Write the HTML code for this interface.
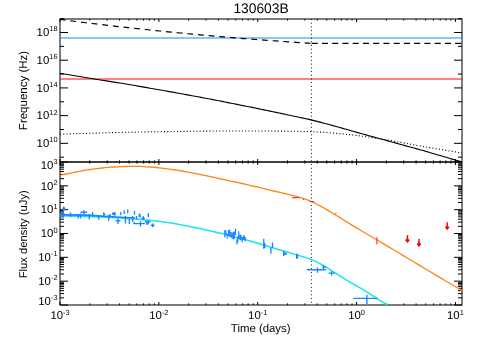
<!DOCTYPE html><html><head><meta charset="utf-8"><style>html,body{margin:0;padding:0;background:#fff}svg{display:block}text{font-family:"Liberation Sans",sans-serif;fill:#000;text-rendering:geometricPrecision}</style></head><body>
<svg width="480" height="343" viewBox="0 0 480 343">
<rect width="480" height="343" fill="#fff"/>
<g stroke="#000" stroke-width="1.02" fill="none">
<rect x="60.0" y="19.0" width="402.0" height="286.0"/>
<line x1="60.0" x2="462.0" y1="162.0" y2="162.0" stroke-width="1.55"/>
</g>
<path d="M60.00,19.0v3.0M60.00,159.0v6.0M60.00,305.0v-3.0M89.76,19.0v1.6M89.76,160.4v3.2M89.76,305.0v-1.6M107.17,19.0v1.6M107.17,160.4v3.2M107.17,305.0v-1.6M119.52,19.0v1.6M119.52,160.4v3.2M119.52,305.0v-1.6M129.10,19.0v1.6M129.10,160.4v3.2M129.10,305.0v-1.6M136.93,19.0v1.6M136.93,160.4v3.2M136.93,305.0v-1.6M143.55,19.0v1.6M143.55,160.4v3.2M143.55,305.0v-1.6M149.28,19.0v1.6M149.28,160.4v3.2M149.28,305.0v-1.6M154.34,19.0v1.6M154.34,160.4v3.2M154.34,305.0v-1.6M158.86,19.0v3.0M158.86,159.0v6.0M158.86,305.0v-3.0M188.62,19.0v1.6M188.62,160.4v3.2M188.62,305.0v-1.6M206.03,19.0v1.6M206.03,160.4v3.2M206.03,305.0v-1.6M218.38,19.0v1.6M218.38,160.4v3.2M218.38,305.0v-1.6M227.96,19.0v1.6M227.96,160.4v3.2M227.96,305.0v-1.6M235.79,19.0v1.6M235.79,160.4v3.2M235.79,305.0v-1.6M242.41,19.0v1.6M242.41,160.4v3.2M242.41,305.0v-1.6M248.14,19.0v1.6M248.14,160.4v3.2M248.14,305.0v-1.6M253.20,19.0v1.6M253.20,160.4v3.2M253.20,305.0v-1.6M257.72,19.0v3.0M257.72,159.0v6.0M257.72,305.0v-3.0M287.48,19.0v1.6M287.48,160.4v3.2M287.48,305.0v-1.6M304.89,19.0v1.6M304.89,160.4v3.2M304.89,305.0v-1.6M317.24,19.0v1.6M317.24,160.4v3.2M317.24,305.0v-1.6M326.82,19.0v1.6M326.82,160.4v3.2M326.82,305.0v-1.6M334.65,19.0v1.6M334.65,160.4v3.2M334.65,305.0v-1.6M341.27,19.0v1.6M341.27,160.4v3.2M341.27,305.0v-1.6M347.00,19.0v1.6M347.00,160.4v3.2M347.00,305.0v-1.6M352.06,19.0v1.6M352.06,160.4v3.2M352.06,305.0v-1.6M356.58,19.0v3.0M356.58,159.0v6.0M356.58,305.0v-3.0M386.34,19.0v1.6M386.34,160.4v3.2M386.34,305.0v-1.6M403.75,19.0v1.6M403.75,160.4v3.2M403.75,305.0v-1.6M416.10,19.0v1.6M416.10,160.4v3.2M416.10,305.0v-1.6M425.68,19.0v1.6M425.68,160.4v3.2M425.68,305.0v-1.6M433.51,19.0v1.6M433.51,160.4v3.2M433.51,305.0v-1.6M440.13,19.0v1.6M440.13,160.4v3.2M440.13,305.0v-1.6M445.86,19.0v1.6M445.86,160.4v3.2M445.86,305.0v-1.6M450.92,19.0v1.6M450.92,160.4v3.2M450.92,305.0v-1.6M455.44,19.0v3.0M455.44,159.0v6.0M455.44,305.0v-3.0M60.0,157.20h4M462.0,157.20h-4M60.0,143.35h8M462.0,143.35h-8M60.0,129.49h4M462.0,129.49h-4M60.0,115.64h8M462.0,115.64h-8M60.0,101.78h4M462.0,101.78h-4M60.0,87.92h8M462.0,87.92h-8M60.0,74.07h4M462.0,74.07h-4M60.0,60.21h8M462.0,60.21h-8M60.0,46.36h4M462.0,46.36h-4M60.0,32.50h8M462.0,32.50h-8M60.0,18.64h4M462.0,18.64h-4M60.0,305.00h8M462.0,305.00h-8M60.0,297.83h4M462.0,297.83h-4M60.0,293.63h4M462.0,293.63h-4M60.0,290.65h4M462.0,290.65h-4M60.0,288.34h4M462.0,288.34h-4M60.0,286.45h4M462.0,286.45h-4M60.0,284.86h4M462.0,284.86h-4M60.0,283.48h4M462.0,283.48h-4M60.0,282.26h4M462.0,282.26h-4M60.0,281.17h8M462.0,281.17h-8M60.0,273.99h4M462.0,273.99h-4M60.0,269.80h4M462.0,269.80h-4M60.0,266.82h4M462.0,266.82h-4M60.0,264.51h4M462.0,264.51h-4M60.0,262.62h4M462.0,262.62h-4M60.0,261.03h4M462.0,261.03h-4M60.0,259.64h4M462.0,259.64h-4M60.0,258.42h4M462.0,258.42h-4M60.0,257.33h8M462.0,257.33h-8M60.0,250.16h4M462.0,250.16h-4M60.0,245.96h4M462.0,245.96h-4M60.0,242.98h4M462.0,242.98h-4M60.0,240.67h4M462.0,240.67h-4M60.0,238.79h4M462.0,238.79h-4M60.0,237.19h4M462.0,237.19h-4M60.0,235.81h4M462.0,235.81h-4M60.0,234.59h4M462.0,234.59h-4M60.0,233.50h8M462.0,233.50h-8M60.0,226.33h4M462.0,226.33h-4M60.0,222.13h4M462.0,222.13h-4M60.0,219.15h4M462.0,219.15h-4M60.0,216.84h4M462.0,216.84h-4M60.0,214.95h4M462.0,214.95h-4M60.0,213.36h4M462.0,213.36h-4M60.0,211.98h4M462.0,211.98h-4M60.0,210.76h4M462.0,210.76h-4M60.0,209.67h8M462.0,209.67h-8M60.0,202.49h4M462.0,202.49h-4M60.0,198.30h4M462.0,198.30h-4M60.0,195.32h4M462.0,195.32h-4M60.0,193.01h4M462.0,193.01h-4M60.0,191.12h4M462.0,191.12h-4M60.0,189.53h4M462.0,189.53h-4M60.0,188.14h4M462.0,188.14h-4M60.0,186.92h4M462.0,186.92h-4M60.0,185.83h8M462.0,185.83h-8M60.0,178.66h4M462.0,178.66h-4M60.0,174.46h4M462.0,174.46h-4M60.0,171.48h4M462.0,171.48h-4M60.0,169.17h4M462.0,169.17h-4M60.0,167.29h4M462.0,167.29h-4M60.0,165.69h4M462.0,165.69h-4M60.0,164.31h4M462.0,164.31h-4M60.0,163.09h4M462.0,163.09h-4M60.0,162.00h8M462.0,162.00h-8" stroke="#000" stroke-width="1.0" fill="none"/>
<line x1="60.0" x2="462.0" y1="38.05" y2="38.05" stroke="#1c84ff" stroke-width="1.1"/>
<line x1="60.0" x2="462.0" y1="78.95" y2="78.95" stroke="#ff0505" stroke-width="1.1"/>
<path d="M59.75,19.47 L64.00,20.01 L68.00,20.52 L72.00,21.02 L76.00,21.52 L80.00,22.02 L84.00,22.51 L88.00,22.99 L92.00,23.48 L96.00,23.95 L100.00,24.43 L104.00,24.89 L108.00,25.36 L112.00,25.82 L116.00,26.28 L120.00,26.73 L124.00,27.17 L128.00,27.62 L132.00,28.06 L136.00,28.49 L140.00,28.92 L144.00,29.35 L148.00,29.77 L152.00,30.18 L156.00,30.60 L160.00,31.01 L164.00,31.41 L168.00,31.81 L172.00,32.20 L176.00,32.60 L180.00,32.98 L184.00,33.36 L188.00,33.74 L192.00,34.12 L196.00,34.49 L200.00,34.85 L204.00,35.21 L208.00,35.57 L212.00,35.92 L216.00,36.27 L220.00,36.61 L224.00,36.95 L228.00,37.29 L232.00,37.62 L236.00,37.94 L240.00,38.26 L244.00,38.58 L248.00,38.90 L252.00,39.20 L256.00,39.51 L260.00,39.81 L264.00,40.11 L268.00,40.40 L272.00,40.69 L276.00,40.97 L280.00,41.25 L284.00,41.52 L288.00,41.79 L292.00,42.06 L296.00,42.32 L300.00,42.58 L304.00,42.83 L308.00,43.08 L311.50,43.29" fill="none" stroke="#000" stroke-width="1.2" stroke-dasharray="5.8 4.9"/>
<path d="M311.70,43.30 L462.00,43.30" fill="none" stroke="#000" stroke-width="1.2" stroke-dasharray="6 4.25"/>
<path d="M60.00,73.30 L63.00,73.80 L66.00,74.30 L69.00,74.80 L72.00,75.30 L75.00,75.80 L78.00,76.29 L81.00,76.79 L84.00,77.28 L87.00,77.77 L90.00,78.26 L93.00,78.75 L96.00,79.24 L99.00,79.72 L102.00,80.20 L105.00,80.67 L108.00,81.15 L111.00,81.62 L114.00,82.10 L117.00,82.58 L120.00,83.06 L123.00,83.54 L126.00,84.03 L129.00,84.53 L132.00,85.04 L135.00,85.56 L138.00,86.08 L141.00,86.61 L144.00,87.14 L147.00,87.67 L150.00,88.20 L153.00,88.72 L156.00,89.25 L159.00,89.77 L162.00,90.29 L165.00,90.81 L168.00,91.34 L171.00,91.88 L174.00,92.42 L177.00,92.96 L180.00,93.50 L183.00,94.04 L186.00,94.59 L189.00,95.14 L192.00,95.69 L195.00,96.25 L198.00,96.80 L201.00,97.37 L204.00,97.93 L207.00,98.50 L210.00,99.07 L213.00,99.65 L216.00,100.23 L219.00,100.82 L222.00,101.40 L225.00,102.00 L228.00,102.59 L231.00,103.19 L234.00,103.79 L237.00,104.39 L240.00,104.99 L243.00,105.60 L246.00,106.20 L249.00,106.81 L252.00,107.42 L255.00,108.04 L258.00,108.66 L261.00,109.27 L264.00,109.90 L267.00,110.52 L270.00,111.15 L273.00,111.77 L276.00,112.40 L279.00,113.03 L282.00,113.67 L285.00,114.30 L288.00,114.93 L291.00,115.55 L294.00,116.18 L297.00,116.80 L300.00,117.43 L303.00,118.08 L306.00,118.74 L309.00,119.42 L312.00,120.12 L315.00,120.85 L318.00,121.62 L321.00,122.40 L324.00,123.20 L327.00,124.01 L330.00,124.83 L333.00,125.66 L336.00,126.47 L339.00,127.30 L342.00,128.13 L345.00,128.97 L348.00,129.82 L351.00,130.67 L354.00,131.52 L357.00,132.36 L360.00,133.20 L363.00,134.03 L366.00,134.87 L369.00,135.70 L372.00,136.53 L375.00,137.35 L378.00,138.18 L381.00,139.01 L384.00,139.83 L387.00,140.66 L390.00,141.48 L393.00,142.31 L396.00,143.13 L399.00,143.95 L402.00,144.78 L405.00,145.60 L408.00,146.42 L411.00,147.23 L414.00,148.04 L417.00,148.86 L420.00,149.70 L423.00,150.55 L426.00,151.41 L429.00,152.29 L432.00,153.17 L435.00,154.05 L438.00,154.93 L441.00,155.82 L444.00,156.70 L447.00,157.58 L450.00,158.46 L453.00,159.34 L456.00,160.23 L459.00,161.11 L462.00,162.00" fill="none" stroke="#000" stroke-width="1.12"/>
<path d="M60.00,134.20 L63.00,134.10 L66.00,134.01 L69.00,133.91 L72.00,133.82 L75.00,133.73 L78.00,133.64 L81.00,133.55 L84.00,133.46 L87.00,133.37 L90.00,133.28 L93.00,133.20 L96.00,133.11 L99.00,133.03 L102.00,132.94 L105.00,132.86 L108.00,132.78 L111.00,132.69 L114.00,132.61 L117.00,132.53 L120.00,132.45 L123.00,132.37 L126.00,132.30 L129.00,132.23 L132.00,132.16 L135.00,132.10 L138.00,132.04 L141.00,131.99 L144.00,131.94 L147.00,131.89 L150.00,131.84 L153.00,131.79 L156.00,131.75 L159.00,131.70 L162.00,131.66 L165.00,131.62 L168.00,131.58 L171.00,131.55 L174.00,131.51 L177.00,131.48 L180.00,131.44 L183.00,131.40 L186.00,131.37 L189.00,131.33 L192.00,131.29 L195.00,131.26 L198.00,131.22 L201.00,131.19 L204.00,131.16 L207.00,131.13 L210.00,131.10 L213.00,131.07 L216.00,131.05 L219.00,131.03 L222.00,131.02 L225.00,131.01 L228.00,131.00 L231.00,131.00 L234.00,131.00 L237.00,131.00 L240.00,131.00 L243.00,131.01 L246.00,131.01 L249.00,131.02 L252.00,131.02 L255.00,131.03 L258.00,131.03 L261.00,131.04 L264.00,131.05 L267.00,131.06 L270.00,131.06 L273.00,131.07 L276.00,131.09 L279.00,131.10 L282.00,131.11 L285.00,131.13 L288.00,131.17 L291.00,131.21 L294.00,131.26 L297.00,131.32 L300.00,131.39 L303.00,131.46 L306.00,131.54 L309.00,131.63 L312.00,131.72 L315.00,131.83 L318.00,131.98 L321.00,132.16 L324.00,132.36 L327.00,132.57 L330.00,132.80 L333.00,133.04 L336.00,133.28 L339.00,133.55 L342.00,133.84 L345.00,134.15 L348.00,134.48 L351.00,134.83 L354.00,135.18 L357.00,135.54 L360.00,135.92 L363.00,136.32 L366.00,136.73 L369.00,137.15 L372.00,137.59 L375.00,138.04 L378.00,138.50 L381.00,138.98 L384.00,139.47 L387.00,139.98 L390.00,140.50 L393.00,141.03 L396.00,141.57 L399.00,142.11 L402.00,142.66 L405.00,143.20 L408.00,143.75 L411.00,144.32 L414.00,144.89 L417.00,145.46 L420.00,146.00 L423.00,146.52 L426.00,147.03 L429.00,147.54 L432.00,148.03 L435.00,148.52 L438.00,149.01 L441.00,149.50 L444.00,150.00 L447.00,150.50 L450.00,151.00 L453.00,151.50 L456.00,152.00 L459.00,152.50 L462.00,153.00" fill="none" stroke="#000" stroke-width="1.1" stroke-dasharray="1.05 2.2"/>
<line x1="311.4" x2="311.4" y1="19.0" y2="305.0" stroke="#000" stroke-width="1.0" stroke-dasharray="0.95 2.77"/>
<path d="M60.00,215.80 L63.00,215.86 L66.00,215.93 L69.00,216.00 L72.00,216.08 L75.00,216.16 L78.00,216.24 L81.00,216.33 L84.00,216.42 L87.00,216.51 L90.00,216.61 L93.00,216.72 L96.00,216.82 L99.00,216.94 L102.00,217.07 L105.00,217.20 L108.00,217.35 L111.00,217.52 L114.00,217.70 L117.00,217.89 L120.00,218.10 L123.00,218.31 L126.00,218.52 L129.00,218.73 L132.00,218.94 L135.00,219.14 L138.00,219.34 L141.00,219.56 L144.00,219.78 L147.00,220.03 L150.00,220.30 L153.00,220.61 L156.00,220.95 L159.00,221.33 L162.00,221.74 L165.00,222.16 L168.00,222.60 L171.00,223.05 L174.00,223.54 L177.00,224.06 L180.00,224.60 L183.00,225.18 L186.00,225.78 L189.00,226.40 L192.00,227.00 L195.00,227.58 L198.00,228.18 L201.00,228.82 L204.00,229.50 L207.00,230.20 L210.00,230.90 L213.00,231.58 L216.00,232.25 L219.00,232.93 L222.00,233.62 L225.00,234.34 L228.00,235.09 L231.00,235.85 L234.00,236.63 L237.00,237.43 L240.00,238.23 L243.00,239.05 L246.00,239.88 L249.00,240.72 L252.00,241.57 L255.00,242.44 L258.00,243.31 L261.00,244.20 L264.00,245.10 L267.00,246.01 L270.00,246.95 L273.00,247.89 L276.00,248.80 L279.00,249.69 L282.00,250.57 L285.00,251.45 L288.00,252.32 L291.00,253.20 L294.00,254.10 L297.00,255.00 L300.00,255.87 L303.00,256.75 L306.00,257.67 L309.00,258.68 L312.00,259.80 L315.00,261.11 L318.00,262.59 L321.00,264.18 L324.00,265.86 L327.00,267.71 L330.00,269.66 L333.00,271.56 L336.00,273.43 L339.00,275.31 L342.00,277.16 L345.00,279.00 L348.00,280.80 L351.00,282.57 L354.00,284.32 L357.00,286.09 L360.00,287.90 L363.00,289.74 L366.00,291.58 L369.00,293.45 L372.00,295.32 L375.00,297.21 L378.00,299.12 L381.00,301.04 L384.00,302.98 L387.00,304.93 L387.10,305.00" fill="none" stroke="#0fe6ee" stroke-width="1.45"/>
<path d="M60.00,175.30 L63.00,174.65 L66.00,174.01 L69.00,173.39 L72.00,172.79 L75.00,172.20 L78.00,171.62 L81.00,171.04 L84.00,170.48 L87.00,169.96 L90.00,169.50 L93.00,169.08 L96.00,168.68 L99.00,168.31 L102.00,167.98 L105.00,167.70 L108.00,167.45 L111.00,167.22 L114.00,167.01 L117.00,166.84 L120.00,166.70 L123.00,166.59 L126.00,166.48 L129.00,166.39 L132.00,166.32 L135.00,166.30 L138.00,166.34 L141.00,166.45 L144.00,166.61 L147.00,166.80 L150.00,167.00 L153.00,167.22 L156.00,167.50 L159.00,167.82 L162.00,168.17 L165.00,168.55 L168.00,168.94 L171.00,169.33 L174.00,169.76 L177.00,170.23 L180.00,170.72 L183.00,171.24 L186.00,171.77 L189.00,172.32 L192.00,172.87 L195.00,173.46 L198.00,174.07 L201.00,174.69 L204.00,175.33 L207.00,175.96 L210.00,176.60 L213.00,177.23 L216.00,177.87 L219.00,178.50 L222.00,179.14 L225.00,179.79 L228.00,180.44 L231.00,181.09 L234.00,181.75 L237.00,182.41 L240.00,183.08 L243.00,183.75 L246.00,184.43 L249.00,185.11 L252.00,185.80 L255.00,186.50 L258.00,187.20 L261.00,187.90 L264.00,188.61 L267.00,189.33 L270.00,190.05 L273.00,190.77 L276.00,191.50 L279.00,192.23 L282.00,192.96 L285.00,193.70 L288.00,194.42 L291.00,195.14 L294.00,195.87 L297.00,196.65 L300.00,197.50 L303.00,198.44 L306.00,199.47 L309.00,200.59 L312.00,201.81 L315.00,203.20 L318.00,204.74 L321.00,206.34 L324.00,208.04 L327.00,209.82 L330.00,211.64 L333.00,213.48 L336.00,215.31 L339.00,217.15 L342.00,219.01 L345.00,220.88 L348.00,222.74 L351.00,224.58 L354.00,226.39 L357.00,228.18 L360.00,229.97 L363.00,231.75 L366.00,233.51 L369.00,235.28 L372.00,237.04 L375.00,238.80 L378.00,240.56 L381.00,242.33 L384.00,244.11 L387.00,245.89 L390.00,247.68 L393.00,249.47 L396.00,251.26 L399.00,253.06 L402.00,254.85 L405.00,256.65 L408.00,258.45 L411.00,260.25 L414.00,262.05 L417.00,263.84 L420.00,265.64 L423.00,267.44 L426.00,269.23 L429.00,271.02 L432.00,272.81 L435.00,274.60 L438.00,276.38 L441.00,278.17 L444.00,279.95 L447.00,281.73 L450.00,283.50 L453.00,285.28 L456.00,287.05 L459.00,288.83 L462.00,290.60" fill="none" stroke="#ff8414" stroke-width="1.3"/>
<path d="M60,214.95 L88,215.1 L98,215.8 L116,217.0" stroke="#1c84ff" stroke-width="1.75" fill="none"/>
<path d="M63.8,206.4 L66,209.2 L63.8,211 L61.6,209.2Z" fill="#1c84ff"/>
<path d="M60,214.9 L64.5,214.9" stroke="#1c84ff" stroke-width="3.6" fill="none"/>
<path d="M116,217.0 L135,218.0" stroke="#1c84ff" stroke-width="1.6" fill="none"/>
<path d="M63.80,206.80V210.80M70.50,212.30V217.30M78.25,214.00V218.60M80.50,213.60V218.60M83.80,210.25V214.40M89.25,214.40V219.40M92.60,212.00V216.50M98.75,216.50V219.80M103.75,212.30V215.70M108.75,214.80V220.70M110.40,214.00V215.70M113.75,212.30V215.25M115.00,212.30V215.70M117.90,218.60V224.00M120.80,211.90V215.25M124.20,210.25V214.00M125.40,215.70V223.40M127.75,209.40V213.20M129.30,219.00V224.00M132.60,216.00V221.90M134.50,211.00V214.80M134.30,221.90V224.00M136.50,216.00V219.80M139.30,213.60V217.30M140.00,213.80V217.50M140.40,221.00V226.50M143.20,216.00V220.25M146.80,220.25V224.80M148.30,220.40V224.60M148.30,213.20V217.30M152.70,223.60V227.30M80.50,212.20H87.20M103.00,214.40H105.40M107.00,216.30H110.40M112.00,214.00H115.70M112.30,212.80H115.30M115.80,220.70H120.40M133.30,223.60H145.00M141.25,218.30H145.00M145.00,221.90H150.80M150.80,225.25H154.60M263.75,238.75V248.75M264.75,243.10V248.10M270.90,247.50V253.75M272.50,242.50V248.00M283.75,251.00V256.00M283.75,253.75H287.00M285.00,252.50V255.00M296.60,253.75V258.75M297.50,254.00V258.50M306.90,269.75H326.25M317.50,267.50V272.75M322.50,267.20H325.60M323.40,265.00V269.40M328.50,273.10H334.75M331.60,271.25V275.60M353.30,298.30H377.30M366.90,294.80V304.20" stroke="#1c84ff" stroke-width="1.35" fill="none"/>
<path d="M224.75,230.00V237.50M226.00,230.62V235.62M227.25,233.75V238.75M228.50,230.00V236.25M229.75,229.38V236.88M231.00,231.88V237.50M232.25,232.50V238.75M233.50,231.88V239.38M234.38,231.25V238.75M235.62,228.75V235.00M236.88,238.75V244.38M237.88,236.25V242.50M238.75,231.25V238.75M240.00,234.38V240.00M241.00,235.00V240.62M242.25,236.88V242.50M243.50,235.62V240.00M244.38,235.62V240.62M245.25,236.88V241.25" stroke="#1c84ff" stroke-width="1.15" fill="none"/>
<path d="M292.2,197.9L299.7,197.5M303,199.5h1M309.7,201.5H314.2M335.8,212.8v1.2M376.9,237.2V244.5" stroke="#ff2436" stroke-width="1.1" fill="none"/>
<path d="M407.45,235.15V239.75" stroke="#ff0000" stroke-width="1.5" fill="none"/><path d="M406.7,238.85L405.09999999999997,240.15L407.45,243.05L409.8,240.15L408.2,238.85Z" fill="#ff0000"/>
<path d="M419.0,239.1V243.7" stroke="#ff0000" stroke-width="1.5" fill="none"/><path d="M418.25,242.79999999999998L416.65,244.1L419.0,247.0L421.35,244.1L419.75,242.79999999999998Z" fill="#ff0000"/>
<path d="M447.2,222.3V226.9" stroke="#ff0000" stroke-width="1.5" fill="none"/><path d="M446.45,226.0L444.84999999999997,227.3L447.2,230.20000000000002L449.55,227.3L447.95,226.0Z" fill="#ff0000"/>
<defs><filter id="f" x="0" y="0" width="480" height="343" filterUnits="userSpaceOnUse"><feOffset dx="0" dy="0"/></filter></defs>
<g filter="url(#f)">
<text x="261" y="13.2" font-size="13.8" text-anchor="middle">130603B</text>
<text x="57.5" y="147.1" font-size="11.4" text-anchor="end">10<tspan font-size="7.4" dy="-4.8">10</tspan></text>
<text x="57.5" y="119.39" font-size="11.4" text-anchor="end">10<tspan font-size="7.4" dy="-4.8">12</tspan></text>
<text x="57.5" y="91.67" font-size="11.4" text-anchor="end">10<tspan font-size="7.4" dy="-4.8">14</tspan></text>
<text x="57.5" y="63.96" font-size="11.4" text-anchor="end">10<tspan font-size="7.4" dy="-4.8">16</tspan></text>
<text x="57.5" y="36.25" font-size="11.4" text-anchor="end">10<tspan font-size="7.4" dy="-4.8">18</tspan></text>
<text x="57.5" y="168.5" font-size="11.4" text-anchor="end">10<tspan font-size="7.4" dy="-4.8">3</tspan></text>
<text x="57.5" y="189.63" font-size="11.4" text-anchor="end">10<tspan font-size="7.4" dy="-4.8">2</tspan></text>
<text x="57.5" y="213.47" font-size="11.4" text-anchor="end">10<tspan font-size="7.4" dy="-4.8">1</tspan></text>
<text x="57.5" y="237.3" font-size="11.4" text-anchor="end">10<tspan font-size="7.4" dy="-4.8">0</tspan></text>
<text x="57.5" y="261.13" font-size="11.4" text-anchor="end">10<tspan font-size="7.4" dy="-4.8">-1</tspan></text>
<text x="57.5" y="284.97" font-size="11.4" text-anchor="end">10<tspan font-size="7.4" dy="-4.8">-2</tspan></text>
<text x="57.5" y="305.0" font-size="11.4" text-anchor="end">10<tspan font-size="7.4" dy="-4.8">-3</tspan></text>
<text x="60.0" y="319.3" font-size="11.4" text-anchor="middle">10<tspan font-size="7.4" dy="-4.8">-3</tspan></text>
<text x="158.86" y="319.3" font-size="11.4" text-anchor="middle">10<tspan font-size="7.4" dy="-4.8">-2</tspan></text>
<text x="257.72" y="319.3" font-size="11.4" text-anchor="middle">10<tspan font-size="7.4" dy="-4.8">-1</tspan></text>
<text x="356.58" y="319.3" font-size="11.4" text-anchor="middle">10<tspan font-size="7.4" dy="-4.8">0</tspan></text>
<text x="455.44" y="319.3" font-size="11.4" text-anchor="middle">10<tspan font-size="7.4" dy="-4.8">1</tspan></text>
<text x="260.7" y="331.9" font-size="11.4" text-anchor="middle">Time (days)</text>
<text transform="translate(27.3,90.5) rotate(-90)" font-size="11.5" text-anchor="middle">Frequency (Hz)</text>
<text transform="translate(27.3,234.2) rotate(-90)" font-size="11.25" text-anchor="middle">Flux density (uJy)</text>
</g>
</svg></body></html>
